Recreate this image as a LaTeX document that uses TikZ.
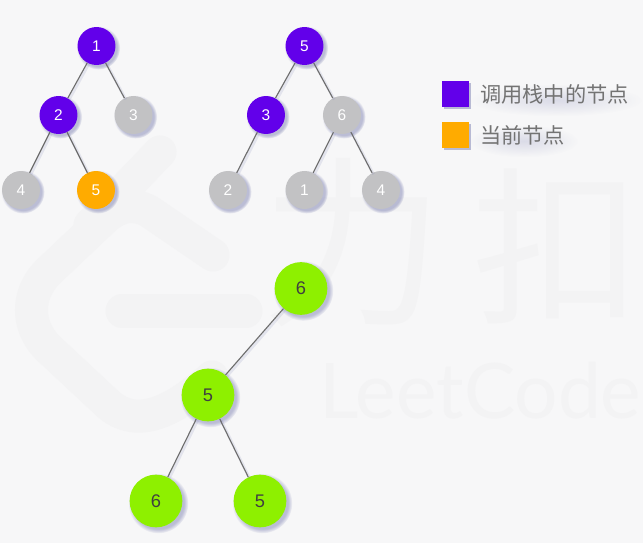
\documentclass[tikz,border=0pt]{standalone}
\usepackage{fontspec}
\setmainfont{Liberation Sans}
\newfontfamily\cjk{Noto Sans CJK SC}
\newfontfamily\wmfont{Lato}
\usetikzlibrary{shadows,fadings}
\definecolor{bgcol}{HTML}{F7F7F8}
\definecolor{wmcol}{HTML}{F3F3F4}
\definecolor{stackcol}{HTML}{6200EA}
\definecolor{currcol}{HTML}{FFAB00}
\definecolor{greencol}{HTML}{8EF000}
\definecolor{greycol}{HTML}{C2C2C4}
\definecolor{shadecol}{HTML}{5A5F9E}
\definecolor{edgecol}{HTML}{6E6E6E}
\tikzfading[name=softbar, inner color=transparent!40, outer color=transparent!100]
\tikzset{
  softshadow/.style={circular drop shadow={shadow xshift=#1, shadow yshift=-#1, shadow scale=1.14, fill=shadecol, opacity=.38}},
  vertex/.style={circle, inner sep=0pt, minimum size=27pt, text=white, font=\fontsize{11}{11}\selectfont, softshadow=1.2pt},
  stacknode/.style={vertex, fill=stackcol},
  currnode/.style={vertex, fill=currcol},
  restnode/.style={vertex, fill=greycol},
  resnode/.style={circle, inner sep=0pt, minimum size=37.5pt, fill=greencol, text=black!75, font=\fontsize{13}{13}\selectfont, softshadow=1.4pt},
  edge/.style={draw=edgecol, line width=0.8pt, preaction={draw=shadecol, draw opacity=.12, line width=2pt, transform canvas={shift={(1pt,-1pt)}}}},
  legendbox/.style={minimum size=19pt, inner sep=0pt, drop shadow={shadow xshift=1.4pt, shadow yshift=-1.4pt, fill=shadecol, opacity=.4}},
  legendtext/.style={anchor=west, inner sep=0pt, text=black!55, font=\cjk\fontsize{15.1}{15}\selectfont},
  textshade/.style={fill=shadecol, opacity=.3, path fading=softbar},
  watermark/.style={draw=wmcol, line width=23.5pt, line cap=round, line join=round},
  wmtext/.style={text=wmcol, inner sep=0pt}
}
\begin{document}
\begin{tikzpicture}[x=0.025cm, y=-0.025cm]
  \fill[bgcol] (0,0) rectangle (643,543);
  \useasboundingbox (0,0) rectangle (643,543);
  % watermark
  \draw[watermark] (213,255) -- (150,212) .. controls (135,203) and (120,205) .. (105,218) -- (48,272) .. controls (26,294) and (26,326) .. (48,348) -- (108,404) .. controls (135,428) and (170,415) .. (212,377);
  \draw[watermark] (160,152) -- (90,225);
  \draw[watermark] (122,311) -- (246,311);
  \node[wmtext, font=\cjk\fontsize{130}{130}\selectfont] (wmli) at (353,243) {力};
  \node[wmtext, font=\cjk\fontsize{120}{120}\selectfont] (wmkou) at (557,246) {扣};
  \node[wmtext, font=\wmfont\fontsize{54.5}{54.5}\selectfont, anchor=west] (wmen) at (319,391) {LeetCode};
  % left tree
  \node[stacknode] (a1) at (96.5,46) {1};
  \node[stacknode] (a2) at (58.5,115) {2};
  \node[restnode] (a3) at (133.5,115) {3};
  \node[restnode] (a4) at (21,190) {4};
  \node[currnode] (a5) at (96,190) {5};
  % right tree
  \node[stacknode] (b5) at (304.5,46) {5};
  \node[stacknode] (b3) at (266,115) {3};
  \node[restnode] (b6) at (342,115) {6};
  \node[restnode] (b2) at (228,190) {2};
  \node[restnode] (b1) at (304.5,190) {1};
  \node[restnode] (b4) at (381,190) {4};
  % lower tree
  \node[resnode] (c6) at (301,288.5) {6};
  \node[resnode] (c5) at (208,395) {5};
  \node[resnode] (d6) at (156,501) {6};
  \node[resnode] (d5) at (260,501) {5};
  \foreach \from/\to in {a1/a2,a1/a3,a2/a4,a2/a5,b5/b3,b5/b6,b3/b2,b6/b1,b6/b4,c6/c5,c5/d6,c5/d5}
    \draw[edge] (\from) -- (\to);
  % legend
  \node[legendbox, fill=stackcol] (key1) at (455.5,94) {};
  \node[legendbox, fill=currcol] (key2) at (455.5,135) {};
  \fill[textshade] (470,84) rectangle (642,116);
  \fill[textshade] (470,125) rectangle (578,157);
  \node[legendtext] (txt1) at (480,94) {调用栈中的节点};
  \node[legendtext] (txt2) at (480,135) {当前节点};
\end{tikzpicture}
\end{document}
